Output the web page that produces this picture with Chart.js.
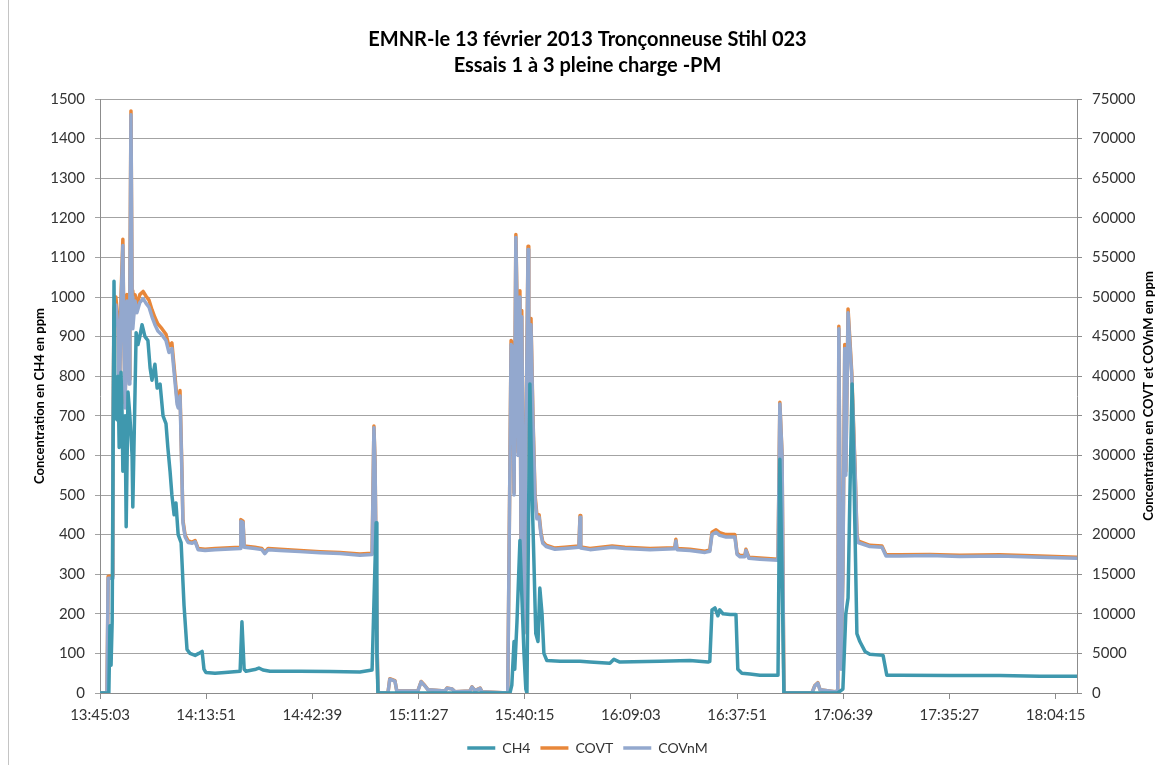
<!DOCTYPE html>
<html>
<head>
<meta charset="utf-8">
<script src="https://cdn.jsdelivr.net/npm/chart.js@4.4.0/dist/chart.umd.min.js"></script>
<style>
  html, body { margin: 0; padding: 0; background: #fff; }
  #wrap { position: relative; width: 1175px; height: 765px; }
  #frame { position: absolute; left: 8px; top: 0; width: 1200px; height: 800px; border-left: 1px solid #c4c4c4; }
</style>
</head>
<body>
<div id="wrap">
  <div id="frame"></div>
  <canvas id="myChart" width="1175" height="765"></canvas>
</div>
<script>
// minutes since 13:45:03
const tCov = [0, 1.9, 2.2, 3.3, 3.5, 3.8, 4.3, 4.9, 5.2, 5.7, 6.2, 6.5, 6.8, 7.3, 7.9, 8.1, 8.4, 8.7, 8.9, 9.5,
  10.0, 10.8, 11.7, 12.5, 13.3, 14.1, 14.9, 15.7, 16.8, 17.9, 18.7, 19.5, 20.3, 20.9, 21.2, 21.7, 22.2, 22.5, 23.1, 23.9,
  25.0, 25.8, 26.6, 28.5, 31.2, 33.9, 38.0, 38.2, 38.8, 39.1, 42.0, 43.9, 44.7, 45.6, 48.8, 54.2, 59.7, 65.1, 70.5, 73.8,
  74.3, 74.6, 75.1, 75.4, 78.1, 78.6, 80.0, 80.5, 86.2, 87.1, 88.1, 89.0, 93.6, 94.1, 95.5, 96.3, 100.3, 100.9, 101.7, 103.1,
  103.6, 110.6, 111.5, 112.0, 112.3, 112.8, 113.1, 113.4, 113.9, 114.2, 114.4, 114.7, 115.0, 115.5, 116.1, 116.3, 116.9, 117.4, 118.0, 118.5,
  119.1, 119.6, 120.1, 121.0, 123.4, 126.1, 129.9, 130.2, 130.4, 132.9, 138.9, 142.4, 149.2, 155.9, 156.2, 156.5, 160.0, 164.1, 165.4, 166.0,
  167.1, 168.1, 169.8, 172.2, 172.8, 173.6, 174.9, 175.2, 176.0, 179.0, 183.9, 184.4, 185.0, 185.5, 193.1, 193.9, 194.7, 195.3, 199.3, 200.1,
  200.4, 201.0, 201.5, 202.0, 202.3, 202.9, 203.4, 203.9, 204.8, 205.3, 205.6, 208.8, 212.1, 213.2, 217.0, 225.1, 233.2, 244.1, 254.9, 265.0];

const covT = [0, 0, 14700, 14800, 30500, 48500, 50000, 47000, 35500, 50000, 57300, 44800, 36600, 50300, 39600, 50800, 73500, 50800, 46800, 50300,
  49000, 50300, 50700, 50100, 49600, 48400, 47400, 46600, 46000, 45300, 43800, 44200, 40200, 37000, 36300, 38200, 28500, 21800, 19900, 19200,
  19050, 19250, 18250, 18150, 18250, 18300, 18400, 21900, 21700, 18550, 18400, 18250, 17750, 18250, 18150, 18000, 17850, 17750, 17550, 17650,
  33700, 29200, 7600, 0, 0, 1800, 1550, 250, 250, 1450, 950, 400, 250, 620, 520, 150, 250, 780, 300, 620,
  150, 0, 44500, 44000, 25300, 57900, 49800, 30400, 50800, 17800, 48300, 30400, 7600, 30400, 56400, 35500, 47300, 35600, 25000, 22500,
  22500, 20300, 19100, 18650, 18300, 18400, 18550, 22400, 18450, 18250, 18550, 18400, 18250, 18350, 19400, 18250, 18150, 17900, 18050, 20300,
  20600, 20250, 20000, 20000, 17650, 17350, 17350, 18150, 17150, 17050, 16900, 36700, 30200, 0, 0, 950, 1300, 420, 150, 250,
  46300, 3100, 15300, 44000, 28000, 48500, 44600, 40500, 28400, 20250, 19200, 18650, 18550, 17450, 17450, 17500, 17400, 17450, 17300, 17150];

const covNM = [0, 0, 14500, 14500, 30000, 47500, 49000, 46000, 35000, 49000, 56500, 44000, 36000, 49500, 39000, 50000, 73000, 50000, 46000, 49500,
  48000, 49300, 49800, 49200, 48700, 47500, 46500, 45700, 45200, 44500, 43000, 43500, 39500, 36500, 36000, 37500, 28000, 21500, 19700, 19000,
  18900, 19100, 18100, 18000, 18100, 18150, 18250, 21700, 21500, 18400, 18250, 18100, 17600, 18100, 18000, 17850, 17700, 17600, 17400, 17500,
  33500, 29000, 7500, 0, 0, 1750, 1500, 250, 250, 1400, 900, 400, 250, 600, 500, 150, 250, 750, 300, 600,
  150, 0, 44000, 43500, 25000, 57500, 49000, 30000, 50000, 17500, 47500, 30000, 7500, 30000, 56000, 35000, 46500, 35000, 24500, 22000,
  22200, 20000, 18900, 18500, 18150, 18250, 18400, 22200, 18300, 18100, 18400, 18250, 18100, 18200, 19200, 18100, 18000, 17750, 17900, 20000,
  20300, 19900, 19700, 19700, 17500, 17200, 17200, 18000, 17000, 16900, 16750, 36500, 30000, 0, 0, 900, 1250, 400, 150, 250,
  46000, 3000, 15000, 43500, 27500, 48000, 44000, 40000, 28000, 20000, 19000, 18500, 18400, 17300, 17300, 17350, 17250, 17300, 17150, 17000];

const tCh4 = [0, 2.4, 2.7, 3.0, 3.3, 3.8, 4.1, 4.6, 4.9, 5.2, 5.7, 6.0, 6.2, 6.8, 7.1, 7.6, 8.1, 8.7, 8.9, 9.5,
  9.8, 10.3, 10.8, 11.4, 12.2, 13.0, 13.6, 14.1, 14.9, 15.5, 16.3, 17.1, 17.9, 18.4, 19.0, 19.5, 20.1, 20.6, 21.2, 22.0,
  22.8, 23.6, 24.4, 25.8, 26.8, 27.7, 28.2, 28.7, 31.2, 33.9, 38.0, 38.5, 39.1, 39.6, 42.3, 43.1, 44.2, 46.1, 54.2, 62.4,
  70.5, 73.8, 74.9, 75.1, 75.4, 111.2, 111.7, 112.3, 112.5, 113.1, 113.9, 114.4, 115.0, 115.5, 115.8, 116.3, 116.6, 117.2, 117.7, 118.2,
  118.8, 119.3, 119.9, 120.4, 121.2, 124.8, 130.2, 132.9, 138.3, 139.4, 141.0, 151.9, 160.0, 164.9, 165.4, 166.0, 166.8, 167.6, 168.1, 169.0,
  170.9, 172.5, 173.0, 174.1, 176.3, 179.0, 183.9, 184.4, 185.0, 185.5, 200.1, 201.5, 202.3, 202.9, 203.4, 204.0, 204.8, 205.3, 206.1, 207.5,
  208.8, 212.4, 213.4, 217.0, 230.5, 244.1, 254.9, 265.0];

const ch4 = [0, 0, 170, 70, 180, 1040, 700, 690, 800, 620, 810, 700, 560, 700, 420, 760, 700, 600, 470, 760,
  910, 880, 900, 930, 900, 890, 820, 790, 830, 770, 780, 700, 680, 620, 560, 500, 450, 480, 400, 380,
  220, 110, 100, 95, 100, 105, 60, 52, 50, 52, 55, 180, 60, 55, 60, 63, 58, 55, 55, 54,
  53, 58, 430, 100, 0, 0, 20, 130, 60, 180, 385, 250, 100, 10, 0, 500, 780, 500, 330, 150,
  130, 265, 200, 100, 82, 80, 80, 78, 75, 85, 78, 80, 82, 78, 80, 210, 215, 195, 210, 200,
  198, 198, 60, 50, 48, 45, 45, 590, 300, 0, 0, 10, 200, 240, 500, 780, 400, 150, 130, 105,
  98, 95, 45, 45, 44, 44, 42, 42];

const xTickLabels = ['13:45:03', '14:13:51', '14:42:39', '15:11:27', '15:40:15',
  '16:09:03', '16:37:51', '17:06:39', '17:35:27', '18:04:15'];
const tickStep = 28.8;
const seriesNames = ['CH4', 'COVT', 'COVnM'];
const seriesColors = ['#3f98ae', '#e8873a', '#93a8ce'];

const font = 'Lato, "Open Sans", sans-serif';
const ctx = document.getElementById('myChart');

const toPoints = (ts, vs) => ts.map((t, i) => ({ x: t, y: vs[i] }));

// vertical axis titles, both reading bottom to top
const axisTitles = {
  id: 'axisTitles',
  afterDraw(chart) {
    const c = chart.ctx;
    const mid = (chart.chartArea.top + chart.chartArea.bottom) / 2;
    c.save();
    c.font = 'bold 13px ' + font;
    c.fillStyle = '#000';
    c.textAlign = 'center';
    c.textBaseline = 'middle';
    [[40, 'Concentration en CH4 en ppm'], [1149, 'Concentration en COVT et COVnM en ppm']].forEach(([x, txt]) => {
      c.save();
      c.translate(x, mid);
      c.rotate(-Math.PI / 2);
      c.fillText(txt, 0, 0);
      c.restore();
    });
    c.restore();
  }
};

const lineStyle = { borderWidth: 3.5, pointRadius: 0, tension: 0, borderJoinStyle: 'round', borderCapStyle: 'round' };
const tickFont = { family: font, size: 15 };

new Chart(ctx, {
  type: 'line',
  data: {
    datasets: [
      { label: seriesNames[0], data: toPoints(tCh4, ch4), borderColor: seriesColors[0], backgroundColor: seriesColors[0], yAxisID: 'y', order: 0, ...lineStyle },
      { label: seriesNames[1], data: toPoints(tCov, covT), borderColor: seriesColors[1], backgroundColor: seriesColors[1], yAxisID: 'y2', order: 2, ...lineStyle },
      { label: seriesNames[2], data: toPoints(tCov, covNM), borderColor: seriesColors[2], backgroundColor: seriesColors[2], yAxisID: 'y2', order: 1, ...lineStyle }
    ]
  },
  options: {
    responsive: false,
    animation: false,
    layout: { padding: 0 },
    plugins: {
      title: {
        display: true,
        text: ['EMNR-le 13 février 2013 Tronçonneuse Stihl 023', 'Essais 1 à 3 pleine charge -PM'],
        color: '#000',
        font: { family: font, size: 20, weight: 'bold', lineHeight: 1.3 },
        padding: { top: 27, bottom: 20 }
      },
      legend: {
        position: 'bottom',
        labels: {
          usePointStyle: true,
          pointStyle: 'line',
          pointStyleWidth: 28,
          color: '#333',
          font: { family: font, size: 14 },
          padding: 10,
          sort: (a, b) => a.datasetIndex - b.datasetIndex
        }
      },
      tooltip: { enabled: false }
    },
    scales: {
      x: {
        type: 'linear',
        min: 0,
        max: 265,
        afterBuildTicks: (scale) => { scale.ticks = xTickLabels.map((l, i) => ({ value: i * tickStep })); },
        afterFit: (scale) => { scale.height = 38; },
        ticks: {
          callback: (v, i) => xTickLabels[i],
          color: '#333',
          font: tickFont,
          padding: 7,
          maxRotation: 0
        },
        grid: { drawOnChartArea: false, drawTicks: true, tickLength: 6, color: '#8c8c8c' },
        border: { color: '#8c8c8c' }
      },
      y: {
        position: 'left',
        min: 0,
        max: 1500,
        afterFit: (scale) => { scale.width = 100; },
        ticks: { stepSize: 100, color: '#333', font: tickFont, padding: 10, callback: (v) => String(v) },
        grid: { color: '#a3a3a3', tickLength: 5 },
        border: { color: '#8c8c8c' }
      },
      y2: {
        position: 'right',
        min: 0,
        max: 75000,
        afterFit: (scale) => { scale.width = 98; },
        ticks: { stepSize: 5000, color: '#333', font: tickFont, padding: 10, callback: (v) => String(v) },
        grid: { drawOnChartArea: false, color: '#8c8c8c', tickLength: 5 },
        border: { color: '#8c8c8c' }
      }
    }
  },
  plugins: [axisTitles]
});
</script>
</body>
</html>
